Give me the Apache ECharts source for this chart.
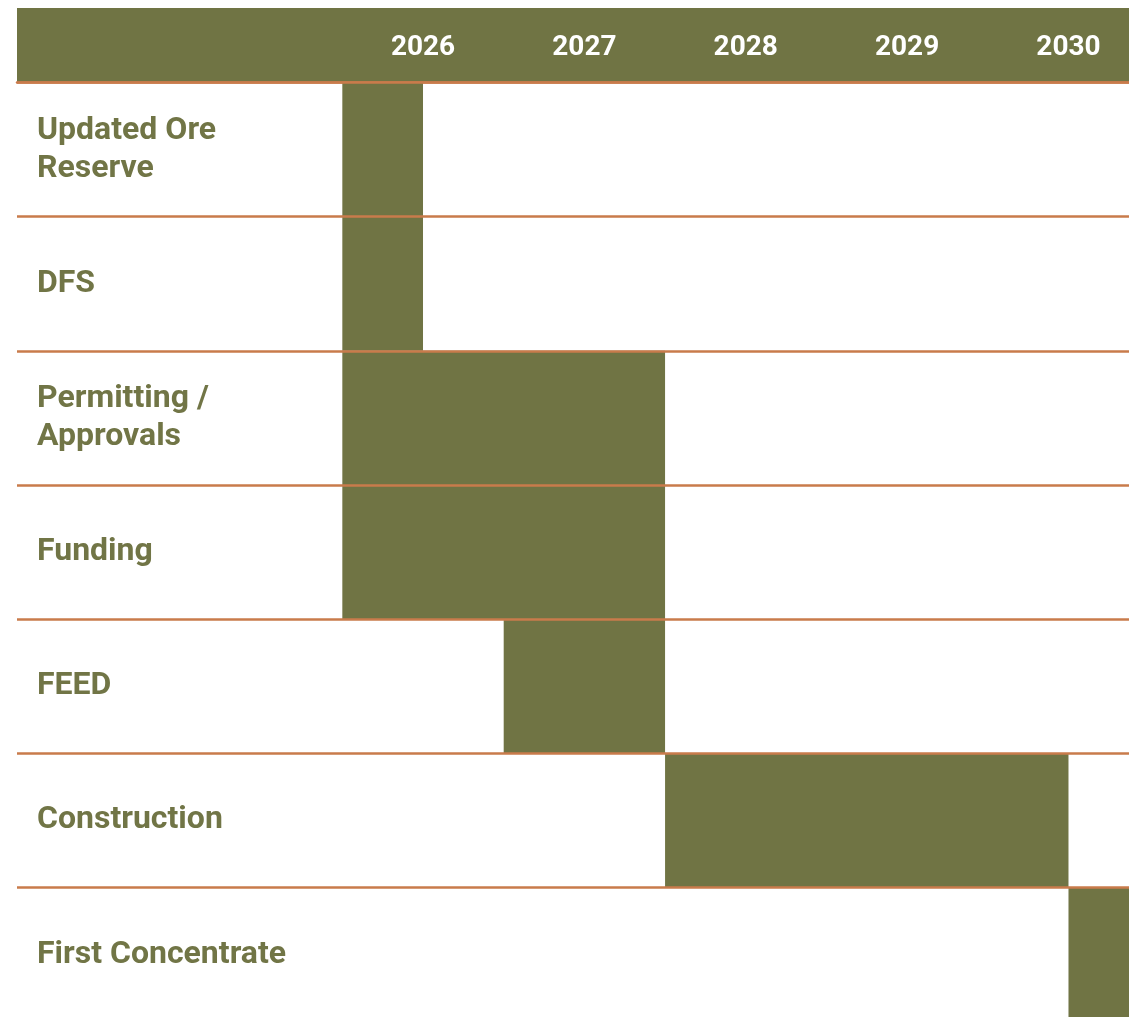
<!DOCTYPE html>
<html>
<head>
<meta charset="utf-8">
<script src="https://cdn.jsdelivr.net/npm/echarts@6/dist/echarts.min.js"></script>
<style>
html,body{margin:0;padding:0;background:#fff;overflow:hidden;}
#chart{width:1129px;height:1030px;}
</style>
</head>
<body>
<div id="chart"></div>
<script>
const tasks = ['Updated Ore Reserve','DFS','Permitting / Approvals','Funding','FEED','Construction','First Concentrate'];
const startYears = [2026, 2026, 2026, 2026, 2027, 2028, 2030.5];
const endYears = [2026.5, 2026.5, 2028, 2028, 2028, 2030.5, 2031];
const yearLabels = ['2026','2027','2028','2029','2030'];

const OLIVE = '#707444';
const ORANGE = '#c97b4b';
const TEXT = '#717546';

const chart = echarts.init(document.getElementById('chart'));
chart.setOption({
  animation: false,
  backgroundColor: '#fff',
  graphic: [{
    type: 'rect', z: 0,
    shape: {x: 17, y: 8, width: 1112, height: 74.5},
    style: {fill: OLIVE}
  }],
  grid: {left: 17, right: 0, top: 82.5, height: 939.2},
  xAxis: {
    type: 'value', position: 'top', min: 2023.984, max: 2030.875,
    splitLine: {show: false},
    axisTick: {show: false},
    axisLine: {show: true, lineStyle: {color: ORANGE, width: 2.5}},
    axisLabel: {
      customValues: yearLabels.map(y => Number(y) + 0.5),
      formatter: v => String(Math.floor(v)),
      color: '#fff', fontFamily: 'Roboto', fontWeight: 'bold', fontSize: 28,
      verticalAlign: 'middle', margin: 35
    }
  },
  yAxis: {
    type: 'category', data: tasks, inverse: true, z: 5,
    axisTick: {show: false},
    axisLine: {show: false},
    splitLine: {show: true, lineStyle: {color: ORANGE, width: 2.5}},
    axisLabel: {
      inside: true, margin: 20, align: 'left', padding: [12, 0, 0, 0],
      color: TEXT, fontFamily: 'Roboto', fontWeight: 'bold', fontSize: 32, lineHeight: 38,
      formatter: v => v.replace('Ore ', 'Ore\n').replace('/ ', '/\n')
    }
  },
  series: [
    {
      type: 'bar', stack: 'g', silent: true,
      data: startYears,
      itemStyle: {color: 'transparent'},
      barWidth: '100%', barCategoryGap: '0%'
    },
    {
      type: 'bar', stack: 'g',
      data: endYears.map((e, i) => e - startYears[i]),
      itemStyle: {color: OLIVE},
      barWidth: '100%', barCategoryGap: '0%'
    }
  ]
});
</script>
</body>
</html>
